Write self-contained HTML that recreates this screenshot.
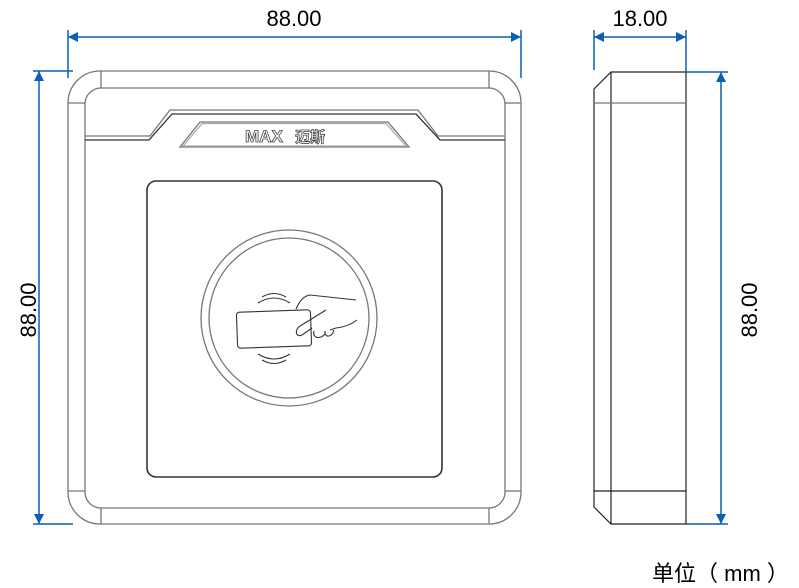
<!DOCTYPE html>
<html><head><meta charset="utf-8"><style>
html,body{margin:0;padding:0;background:#fff;}
svg{display:block;}
text{font-family:"Liberation Sans","Noto Sans CJK SC",sans-serif;fill:#000;}
</style></head><body>
<svg width="799" height="588" viewBox="0 0 799 588" xmlns="http://www.w3.org/2000/svg">
<defs>
<marker id="ar" viewBox="0 0 10 10" refX="10" refY="5" markerWidth="14" markerHeight="10" markerUnits="userSpaceOnUse" orient="auto-start-reverse">
<path d="M0,0 L10,5 L0,10 z" fill="#0a5fb4"/></marker>
</defs>
<g fill="none" stroke="#777" stroke-width="1.3">
<rect x="68" y="71" width="453" height="453" rx="32"/>
<rect x="85" y="88" width="420" height="420" rx="16"/>
<line x1="101" y1="71" x2="101" y2="88"/><line x1="489" y1="71" x2="489" y2="88"/>
<line x1="101" y1="508" x2="101" y2="524"/><line x1="489" y1="508" x2="489" y2="524"/>
<line x1="68" y1="103" x2="85" y2="103"/><line x1="505" y1="103" x2="521" y2="103"/>
<line x1="68" y1="491" x2="85" y2="491"/><line x1="505" y1="491" x2="521" y2="491"/>
<polyline points="85,136 150,136 170,110 418,110 438,136 505,136"/>
<polyline points="85,140 149,140 172,114 416,114 440,140 505,140" stroke="#333"/>
<polygon points="180,147 200,122 388,122 409,147"/>
<polygon points="183,146 202,123.5 386,123.5 406,146" stroke="#aaa"/>
<circle cx="289" cy="318" r="88"/>
<circle cx="289" cy="318" r="80"/>
</g>
<text x="245" y="142" font-size="17" font-weight="bold" style="fill:#fff;stroke:#444;stroke-width:0.8">MAX</text>
<text x="295" y="142" font-size="15" font-weight="bold" style="fill:#fff;stroke:#444;stroke-width:0.8">迈斯</text>
<rect x="147" y="181" width="295" height="296" rx="9" fill="none" stroke="#333" stroke-width="1.6"/>
<g fill="none" stroke="#333" stroke-width="1.1">
<rect x="237" y="311" width="74" height="36" rx="3" transform="rotate(-2 274 329)"/>
<path d="M296,309 C300,300 304,296 310,295 L356,300"/>
<path d="M300,326 L326,310"/>
<path d="M357,320 C352,324 345,327 336,328 L330,330"/>
<path d="M300,326 C294,330 296,338 302,335 L312,328"/>
<path d="M314,331 C312,338 320,340 325,334"/>
<path d="M325,331 C324,338 332,338 334,330"/>
<path d="M262,297 Q274,290 286,297"/><path d="M258,303 Q274,293 290,303"/>
<path d="M262,360 Q274,367 286,360"/><path d="M258,354 Q274,364 290,354"/>
</g>
<!-- side view -->
<g fill="none" stroke="#222" stroke-width="1.2">
<polygon points="611,72 686,72 686,524 611,524 594,507 594,89"/>
<line x1="611" y1="72" x2="611" y2="524"/>
<line x1="594" y1="103" x2="686" y2="103" stroke="#777"/>
<line x1="594" y1="491" x2="686" y2="491"/>
</g>
<!-- dimensions -->
<g stroke="#0a5fb4" stroke-width="1.5" fill="none">
<line x1="68" y1="30" x2="68" y2="78"/><line x1="521" y1="30" x2="521" y2="78"/>
<line x1="68" y1="37" x2="521" y2="37" marker-start="url(#ar)" marker-end="url(#ar)"/>
<line x1="33" y1="71" x2="73" y2="71"/><line x1="33" y1="524" x2="73" y2="524"/>
<line x1="39" y1="71" x2="39" y2="524" marker-start="url(#ar)" marker-end="url(#ar)"/>
<line x1="594" y1="30" x2="594" y2="70"/><line x1="686" y1="30" x2="686" y2="72"/>
<line x1="594" y1="37" x2="686" y2="37" marker-start="url(#ar)" marker-end="url(#ar)"/>
<line x1="686" y1="72" x2="728" y2="72"/><line x1="686" y1="524" x2="728" y2="524"/>
<line x1="721" y1="72" x2="721" y2="524" marker-start="url(#ar)" marker-end="url(#ar)"/>
</g>
<text x="294" y="26" font-size="22" text-anchor="middle">88.00</text>
<text x="640" y="26" font-size="22" text-anchor="middle">18.00</text>
<text transform="translate(36,310) rotate(-90)" font-size="22" text-anchor="middle">88.00</text>
<text transform="translate(757,310) rotate(-90)" font-size="22" text-anchor="middle">88.00</text>
<text x="652" y="581" font-size="22">单位（ mm ）</text>
</svg>
</body></html>
